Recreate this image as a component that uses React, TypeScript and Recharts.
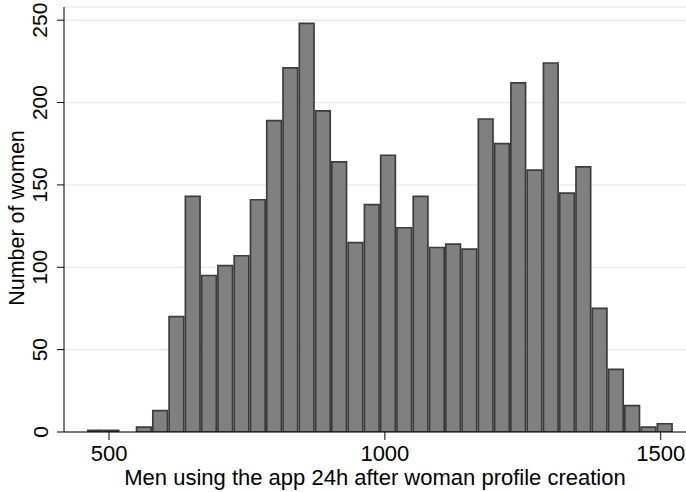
import React from 'react';
import { BarChart, Bar, XAxis, YAxis, CartesianGrid, Label } from 'recharts';

// histogram bins (left edge of first bin and width, in "men" units)
const binStart = 459.6;
const binWidth = 29.5;
const counts = [
  1, 1, 0, 3, 13, 70, 143, 95, 101, 107, 141, 189, 221, 248, 195, 164, 115, 138,
  168, 124, 143, 112, 114, 111, 190, 175, 212, 159, 224, 145, 161, 75, 38, 16, 3, 5,
];
const xTicks = [500, 1000, 1500];
const yTicks = [0, 50, 100, 150, 200, 250];
const xDomain: [number, number] = [418.4, 1545.8];
const yDomain: [number, number] = [0, 258];

const data = counts.map((count, i) => ({ mid: binStart + binWidth * (i + 0.5), count }));

const W = 686;
const H = 492;
const AXIS_W = 64;
const AXIS_H = 60;
const TOP = 7;
const FONT = '"Liberation Sans", Arial, sans-serif';

const plotW = W - AXIS_W;
const barPx = (binWidth * plotW) / (xDomain[1] - xDomain[0]);

const YTick = (props: any) => {
  const { y, payload } = props;
  const bx = 47.5;
  return (
    <text
      x={bx}
      y={y}
      transform={`rotate(-90 ${bx} ${y})`}
      textAnchor="middle"
      fontSize={21}
      fontFamily={FONT}
      fill="#000"
    >
      {payload.value}
    </text>
  );
};

export default function App() {
  return (
    <div style={{ position: 'absolute', left: 0, top: 0, width: W, height: H, background: '#fff' }}>
      <BarChart
        width={W}
        height={H}
        data={data}
        margin={{ top: TOP, right: 0, bottom: 0, left: 0 }}
        barCategoryGap={0}
      >
        <CartesianGrid vertical={false} stroke="#e6eeee" strokeWidth={1.5} />
        <XAxis
          type="number"
          dataKey="mid"
          domain={xDomain}
          allowDataOverflow
          ticks={xTicks}
          height={AXIS_H}
          tickSize={8}
          tickMargin={5}
          axisLine={{ stroke: '#000', strokeWidth: 1 }}
          tickLine={{ stroke: '#000', strokeWidth: 1 }}
          tick={{ fill: '#000', fontSize: 22, fontFamily: FONT }}
        >
          <Label
            value="Men using the app 24h after woman profile creation"
            position="insideBottom"
            offset={7}
            fill="#000"
            fontSize={22}
            fontFamily={FONT}
          />
        </XAxis>
        <YAxis
          type="number"
          domain={yDomain}
          allowDataOverflow
          ticks={yTicks}
          width={AXIS_W}
          tickSize={7}
          axisLine={{ stroke: '#000', strokeWidth: 1 }}
          tickLine={{ stroke: '#000', strokeWidth: 1 }}
          tick={<YTick />}
        >
          <Label
            content={() => {
              const cx = 24;
              const cy = 218;
              return (
                <text
                  x={cx}
                  y={cy}
                  transform={`rotate(-90 ${cx} ${cy})`}
                  textAnchor="middle"
                  fontSize={21.5}
                  fontFamily={FONT}
                  fill="#000"
                >
                  Number of women
                </text>
              );
            }}
          />
        </YAxis>
        <Bar
          dataKey="count"
          fill="#808080"
          stroke="#3c3c3c"
          strokeWidth={1.7}
          barSize={barPx}
          isAnimationActive={false}
        />
      </BarChart>
    </div>
  );
}
